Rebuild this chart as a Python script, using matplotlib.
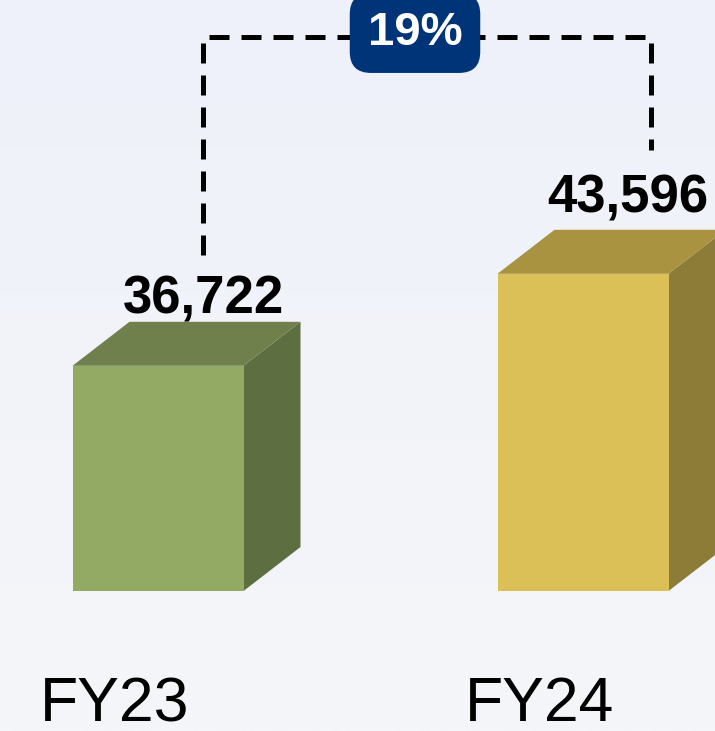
import numpy as np
from matplotlib import pyplot as plt
from matplotlib.patches import Polygon

# data
years = ['FY23', 'FY24']
values = [36722, 43596]
growth_label = '19%'

FRONT_COLORS = ['#92aa63', '#dbc058']
TOP_COLORS = ['#6f804d', '#a99341']
SIDE_COLORS = ['#5d6e40', '#8c7c37']
LABEL_PAD = [8, 17]  # px above the back edge of the top face

W, H = 715, 731
Y_MIN = 19900
UNITS_PER_PX = 74.7
PX_PER_X = 425.0

plt.rcParams['font.family'] = ['Liberation Sans', 'DejaVu Sans']

fig = plt.figure(figsize=(W / 100, H / 100), dpi=100)

# background gradient
bg = fig.add_axes([0, 0, 1, 1])
grad = np.linspace(0, 1, 256).reshape(-1, 1)
cmap = plt.matplotlib.colors.LinearSegmentedColormap.from_list('bg', ['#eef1fa', '#f5f6f9'])
bg.imshow(grad, aspect='auto', cmap=cmap, extent=[0, 1, 0, 1])
bg.axis('off')

bottom_px = 591
ax = fig.add_axes([0, (H - bottom_px) / H, 1, bottom_px / H])
ax.patch.set_alpha(0)
ax.set_xlim(-158 / PX_PER_X, 1 + (W - 583) / PX_PER_X)
ax.set_ylim(Y_MIN, Y_MIN + bottom_px * UNITS_PER_PX)
ax.axis('off')

x = np.arange(len(values))
width = 171 / PX_PER_X
dx = 57 / PX_PER_X
dy = 44 * UNITS_PER_PX

ax.bar(x, np.array(values) - Y_MIN, bottom=Y_MIN, width=width, color=FRONT_COLORS, zorder=3)

for i, v in enumerate(values):
    l, r = x[i] - width / 2, x[i] + width / 2
    top = Polygon([(l, v), (r, v), (r + dx, v + dy), (l + dx, v + dy)], closed=True,
                  facecolor=TOP_COLORS[i], edgecolor='none', zorder=3, clip_on=False)
    side = Polygon([(r, Y_MIN), (r, v), (r + dx, v + dy), (r + dx, Y_MIN + dy)], closed=True,
                   facecolor=SIDE_COLORS[i], edgecolor='none', zorder=2, clip_on=False)
    ax.add_patch(top)
    ax.add_patch(side)

    # value label
    ax.annotate(f'{v:,}', xy=(x[i] + 45 / PX_PER_X, v + dy), xytext=(0, LABEL_PAD[i]),
                textcoords='offset pixels', ha='center', va='baseline', fontsize=38,
                fontweight='bold', color='black', annotation_clip=False, zorder=5)
    # category label
    ax.annotate(years[i], xy=(x[i] - 43 / PX_PER_X, Y_MIN), xytext=(0, -130), textcoords='offset pixels',
                ha='center', va='baseline', fontsize=45, color='black', annotation_clip=False)

# growth bracket
left_x = x[0] + 45 / PX_PER_X
right_x = x[1] + 68 / PX_PER_X
line_top = Y_MIN + 554 * UNITS_PER_PX
left_start = values[0] + dy + 67 * UNITS_PER_PX
right_start = values[1] + dy + 80 * UNITS_PER_PX
ax.plot([left_x, left_x, right_x, right_x], [left_start, line_top, line_top, right_start],
        color='black', lw=3.6, dashes=(4, 2.4), dash_capstyle='butt', solid_joinstyle='miter',
        clip_on=False, zorder=4)

ax.text((left_x + right_x) / 2 - 12 / PX_PER_X, line_top + 4 * UNITS_PER_PX, growth_label,
        ha='center', va='center', fontsize=34, fontweight='bold', color='white', zorder=6,
        bbox=dict(boxstyle='round,pad=0.38,rounding_size=0.45', facecolor='#003478', edgecolor='none'))

plt.savefig('out.png', dpi=100)
